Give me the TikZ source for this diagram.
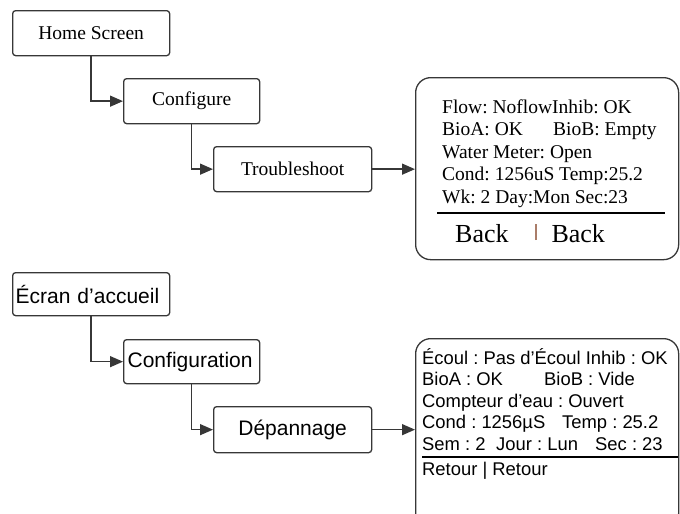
\documentclass[tikz,border=0pt]{standalone}
\usepackage{fontspec}
\setmainfont{Liberation Serif}
\setsansfont{Liberation Sans}
\usetikzlibrary{arrows.meta, positioning}
\definecolor{boxline}{RGB}{55, 55, 55}
\definecolor{barbrown}{RGB}{170, 125, 105}
\frenchspacing

\begin{document}
\begin{tikzpicture}[
        x=1pt, y=-1pt,
        menu/.style={rectangle, rounded corners=3pt, draw=boxline, line width=1.3pt, fill=white, anchor=north west, inner sep=0pt, text centered, minimum height=45pt},
        menuen/.style={menu, font=\fontsize{19.5}{22}\selectfont},
        menufr/.style={menu, font=\sffamily\fontsize{21}{24}\selectfont},
        display/.style={rectangle, rounded corners=15pt, draw=boxline, line width=1.3pt, anchor=north west, inner sep=0pt},
        readout/.style={anchor=base west, inner sep=0pt, align=left},
        arrow/.style={line width=1.4pt, draw=boxline, -{Triangle[length=13pt, width=11pt]}}
    ]
        \useasboundingbox (0,0) rectangle (680,514);
        \clip (0,0) rectangle (680,514);

        % English menu
        \node[menuen, minimum width=157pt] (home) at (12,10) {Home Screen};
        \node[menuen, minimum width=136pt] (configure) at (123,78) {Configure};
        \node[menuen, minimum width=158pt] (trouble) at (213,146) {Troubleshoot};
        \node[display, minimum width=263pt, minimum height=182pt] (lcd) at (415,77) {};

        % base anchor sits on the last line
        \node[readout, font=\fontsize{19.5}{22.5}\selectfont] (lcdtext) at (442,203)
            {Flow: NoflowInhib: OK\\
             \makebox[111pt][l]{BioA: OK}BioB: Empty\\
             Water Meter: Open\\
             Cond: 1256uS Temp:25.2\\
             Wk: 2 Day:Mon Sec:23};
        \draw[line width=2.2pt] (437,213) -- (665,213);
        \node[readout, font=\fontsize{26}{30}\selectfont] (back) at (455,242)
            {\makebox[80pt][l]{Back}{\color{barbrown}\rule[2pt]{1.3pt}{16pt}}\hspace{15pt}Back};

        % French menu
        \node[menufr, minimum height=43pt, text width=151pt, align=left, inner xsep=3pt] (accueil) at (12,272) {Écran d’accueil};
        \node[menufr, minimum height=44pt, text width=128pt, align=left, inner xsep=4pt] (configfr) at (123,339) {Configuration};
        \node[menufr, minimum width=158pt, minimum height=46pt] (depannage) at (213,406) {Dépannage};
        \node[display, minimum width=263pt, minimum height=190pt] (lcdfr) at (415,338) {};

        \node[readout, font=\sffamily\fontsize{18.4}{21.5}\selectfont] (lcdfrtext) at (422,450)
            {Écoul : Pas d’Écoul Inhib : OK\\
             \makebox[122pt][l]{BioA : OK}BioB : Vide\\
             Compteur d’eau : Ouvert\\
             \makebox[140pt][l]{Cond : 1256µS}Temp : 25.2\\
             \makebox[74pt][l]{Sem : 2}\makebox[99pt][l]{Jour : Lun}Sec : 23};
        \draw[line width=2pt] (422,457) -- (678,457);
        \node[readout, font=\sffamily\fontsize{18.4}{21.5}\selectfont] (retour) at (422,475) {Retour | Retour};

        % Links
        \draw[arrow] (home.south) |- (configure.west);
        \draw[arrow] (configure.south) |- (trouble.west);
        \draw[arrow] (trouble.east) -- (trouble.east -| lcd.west);
        \draw[arrow] (accueil.south) |- (configfr.west);
        \draw[arrow] (configfr.south) |- (depannage.west);
        \draw[arrow] (depannage.east) -- (depannage.east -| lcdfr.west);

    \end{tikzpicture}
\end{document}
